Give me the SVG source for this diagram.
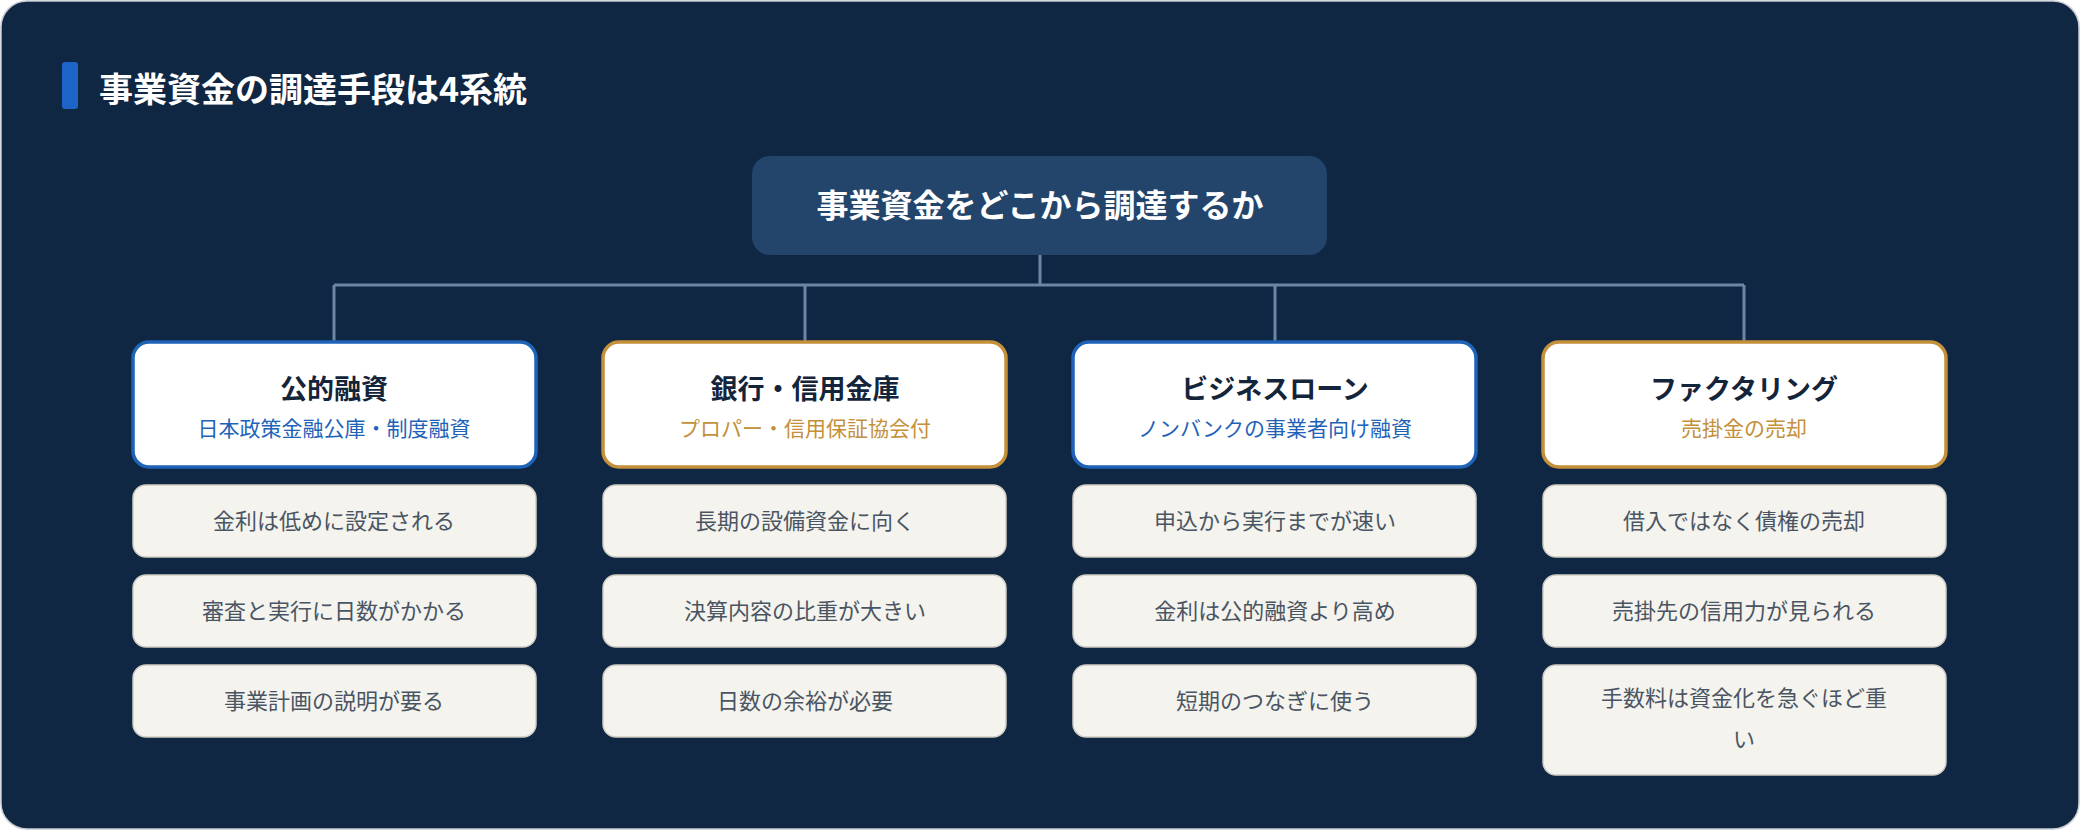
<svg xmlns="http://www.w3.org/2000/svg" width="2080" height="830" viewBox="0 0 2080 830">
<style>
text{font-family:"Noto Sans CJK JP","Noto Sans",sans-serif;text-anchor:middle}
.title{font-size:34px;font-weight:700;fill:#fff;text-anchor:start}
.root{font-size:32px;font-weight:700;fill:#fff}
.cat{fill:#fff;stroke-width:3.5}
.blue{stroke:#1e63b8}.gold{stroke:#c4903a}
.ct{font-size:27px;font-weight:700;fill:#14243a}
.sb{font-size:21px;fill:#1e63b8}.sg{font-size:21px;fill:#c4903a}
.item{fill:#f4f3ee;stroke:#cfcdc4;stroke-width:1.5}
.it{font-size:22px;fill:#4a5563}
.conn{fill:none;stroke:#6d86a6;stroke-width:3}
</style>
<rect x="1" y="1" width="2078" height="828" rx="26" fill="#0f2742" stroke="#c8ccd2" stroke-width="1.5"/>
<rect x="62" y="62" width="16" height="47" rx="3" fill="#1e63c8"/>
<text class="title" x="99" y="102">事業資金の調達手段は4系統</text>
<g id="connectors">
<path class="conn" d="M1040 255V285M334 285H1744M334 285V342M805 285V342M1275 285V342M1744 285V342"/>
</g>
<g id="root"><rect x="752" y="156" width="575" height="99" rx="18" fill="#23456b"/><text class="root" x="1040" y="217">事業資金をどこから調達するか</text></g>
<g id="n1"><rect class="cat blue" x="133" y="342" width="403" height="125" rx="16"/><text class="ct" x="334" y="399">公的融資</text><text class="sb" x="334" y="436">日本政策金融公庫・制度融資</text></g>
<g id="n2"><rect class="cat gold" x="603" y="342" width="403" height="125" rx="16"/><text class="ct" x="805" y="399">銀行・信用金庫</text><text class="sg" x="805" y="436">プロパー・信用保証協会付</text></g>
<g id="n3"><rect class="cat blue" x="1073" y="342" width="403" height="125" rx="16"/><text class="ct" x="1275" y="399">ビジネスローン</text><text class="sb" x="1275" y="436">ノンバンクの事業者向け融資</text></g>
<g id="n4"><rect class="cat gold" x="1543" y="342" width="403" height="125" rx="16"/><text class="ct" x="1744" y="399">ファクタリング</text><text class="sg" x="1744" y="436">売掛金の売却</text></g>
<g id="i11"><rect class="item" x="133" y="485" width="403" height="72" rx="13"/><text class="it" x="334" y="529">金利は低めに設定される</text></g>
<g id="i12"><rect class="item" x="133" y="575" width="403" height="72" rx="13"/><text class="it" x="334" y="619">審査と実行に日数がかかる</text></g>
<g id="i13"><rect class="item" x="133" y="665" width="403" height="72" rx="13"/><text class="it" x="334" y="709">事業計画の説明が要る</text></g>
<g id="i21"><rect class="item" x="603" y="485" width="403" height="72" rx="13"/><text class="it" x="805" y="529">長期の設備資金に向く</text></g>
<g id="i22"><rect class="item" x="603" y="575" width="403" height="72" rx="13"/><text class="it" x="805" y="619">決算内容の比重が大きい</text></g>
<g id="i23"><rect class="item" x="603" y="665" width="403" height="72" rx="13"/><text class="it" x="805" y="709">日数の余裕が必要</text></g>
<g id="i31"><rect class="item" x="1073" y="485" width="403" height="72" rx="13"/><text class="it" x="1275" y="529">申込から実行までが速い</text></g>
<g id="i32"><rect class="item" x="1073" y="575" width="403" height="72" rx="13"/><text class="it" x="1275" y="619">金利は公的融資より高め</text></g>
<g id="i33"><rect class="item" x="1073" y="665" width="403" height="72" rx="13"/><text class="it" x="1275" y="709">短期のつなぎに使う</text></g>
<g id="i41"><rect class="item" x="1543" y="485" width="403" height="72" rx="13"/><text class="it" x="1744" y="529">借入ではなく債権の売却</text></g>
<g id="i42"><rect class="item" x="1543" y="575" width="403" height="72" rx="13"/><text class="it" x="1744" y="619">売掛先の信用力が見られる</text></g>
<g id="i43"><rect class="item" x="1543" y="665" width="403" height="110" rx="13"/><text class="it" x="1744" y="706">手数料は資金化を急ぐほど重</text><text class="it" x="1744" y="747">い</text></g>
</svg>
